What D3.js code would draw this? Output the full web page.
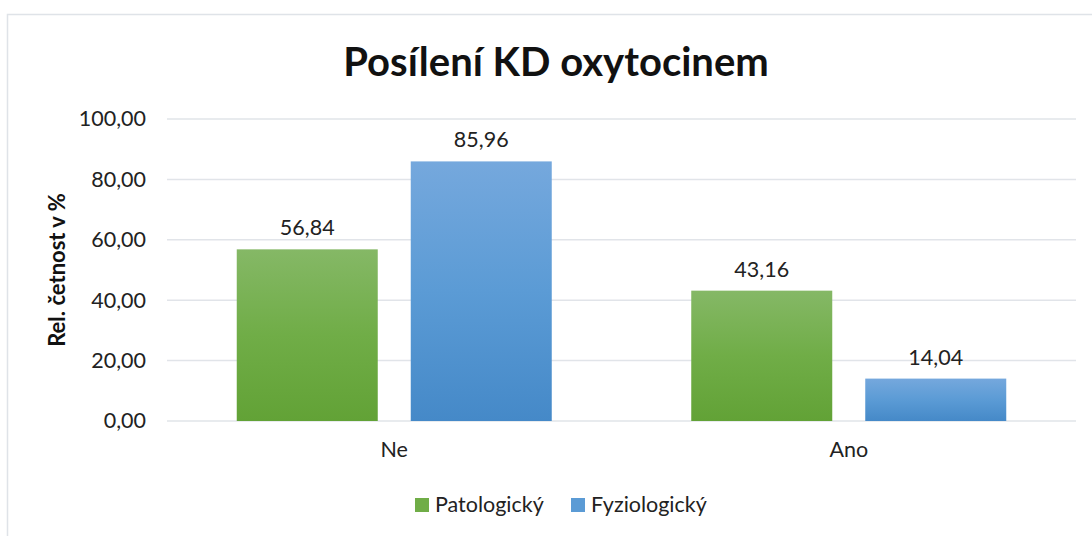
<!DOCTYPE html>
<html>
<head>
<meta charset="utf-8">
<script src="https://cdn.jsdelivr.net/npm/d3@7"></script>
<style>
  html, body { margin: 0; padding: 0; background: #fff; }
  svg { display: block; font-family: Lato, "Open Sans", sans-serif; }
</style>
</head>
<body>
<svg id="chart" width="1092" height="536"></svg>
<script>
// Data
const categories = ['Ne', 'Ano'];
const seriesNames = ['Patologický', 'Fyziologický'];
const patologicky = [56.84, 43.16];
const fyziologicky = [85.96, 14.04];
const yTicks = [0, 20, 40, 60, 80, 100];

const seriesValues = [patologicky, fyziologicky];
const colors = [
    { top: '#85b866', bottom: '#62a236', swatch: '#70ad47' },
    { top: '#75a8dd', bottom: '#4589c8', swatch: '#5b9bd5' }
];

const svg = d3.select('#chart');

// Gradients
const defs = svg.append('defs');
colors.forEach((c, i) => {
    const grad = defs.append('linearGradient')
        .attr('id', 'grad' + i)
        .attr('x1', 0).attr('y1', 0).attr('x2', 0).attr('y2', 1);
    grad.append('stop').attr('offset', '0%').attr('stop-color', c.top);
    grad.append('stop').attr('offset', '50%').attr('stop-color', c.swatch);
    grad.append('stop').attr('offset', '100%').attr('stop-color', c.bottom);
});

// Chart border (runs off right and bottom)
svg.append('rect')
    .attr('x', 7.5).attr('y', 14.5)
    .attr('width', 1200).attr('height', 600)
    .attr('fill', 'none')
    .attr('stroke', '#dfe3e8')
    .attr('stroke-width', 1.5);

const margin = { top: 119, left: 167, right: 16, bottom: 115 };
const width = 1092 - margin.left - margin.right;
const height = 536 - margin.top - margin.bottom;

const g = svg.append('g')
    .attr('transform', `translate(${margin.left},${margin.top})`);

const x0 = d3.scaleBand().domain(categories).range([0, width]).padding(0);
const yScale = d3.scaleLinear().domain([0, 100]).range([height, 0]);

const fmt = v => d3.format('.2f')(v).replace('.', ',');

// Gitterlinien
g.selectAll('.grid')
    .data(yTicks)
    .enter()
    .append('line')
    .attr('x1', 0).attr('x2', width)
    .attr('y1', d => yScale(d)).attr('y2', d => yScale(d))
    .attr('stroke', '#e1e4e9')
    .attr('stroke-width', 1.5);

// Y-Achse
const yAxis = g.append('g')
    .call(d3.axisLeft(yScale).tickValues(yTicks).tickFormat(fmt).tickSize(0).tickPadding(21));
yAxis.select('.domain').remove();
yAxis.selectAll('text')
    .style('font-size', '21.5px')
    .style('fill', '#222')
    .style('font-family', 'Lato, sans-serif');

// X-Achse
const xAxis = g.append('g')
    .attr('transform', `translate(0,${height})`)
    .call(d3.axisBottom(x0).tickSize(0).tickPadding(21));
xAxis.select('.domain').remove();
xAxis.selectAll('text')
    .style('font-size', '21.5px')
    .style('fill', '#222')
    .style('font-family', 'Lato, sans-serif');

// Balken
const barW = 141, gap = 33;
const groupW = barW * 2 + gap;
const barX = (cat, i) => x0(cat) + x0.bandwidth() / 2 - groupW / 2 + i * (barW + gap);

seriesValues.forEach((vals, i) => {
    g.selectAll('.bar' + i)
        .data(categories.map((c, j) => ({ cat: c, val: vals[j] })))
        .enter()
        .append('rect')
        .attr('x', d => barX(d.cat, i))
        .attr('y', d => yScale(d.val))
        .attr('width', barW)
        .attr('height', d => height - yScale(d.val))
        .attr('fill', `url(#grad${i})`);

    g.selectAll('.label' + i)
        .data(categories.map((c, j) => ({ cat: c, val: vals[j] })))
        .enter()
        .append('text')
        .attr('x', d => barX(d.cat, i) + barW / 2)
        .attr('y', d => yScale(d.val) - 14)
        .attr('text-anchor', 'middle')
        .style('font-size', '21.5px')
        .style('fill', '#222')
        .text(d => fmt(d.val));
});

// Titel
svg.append('text')
    .attr('x', 556)
    .attr('y', 76)
    .attr('text-anchor', 'middle')
    .style('font-size', '40px')
    .style('font-weight', '700')
    .style('fill', '#111')
    .text('Posílení KD oxytocinem');

// Y-Achsen-Label
svg.append('text')
    .attr('transform', 'translate(65,270) rotate(-90)')
    .attr('text-anchor', 'middle')
    .style('font-size', '22px')
    .style('font-weight', '700')
    .style('fill', '#111')
    .text('Rel. četnost v %');

// Legende
const legend = svg.append('g').attr('transform', 'translate(415,498)');
const legendX = [0, 156];
seriesNames.forEach((name, i) => {
    const lg = legend.append('g').attr('transform', `translate(${legendX[i]},0)`);
    lg.append('rect')
        .attr('width', 14).attr('height', 14)
        .attr('fill', colors[i].swatch);
    lg.append('text')
        .attr('x', 20).attr('y', 14)
        .style('font-size', '21.5px')
        .style('fill', '#222')
        .text(name);
});
</script>
</body>
</html>
